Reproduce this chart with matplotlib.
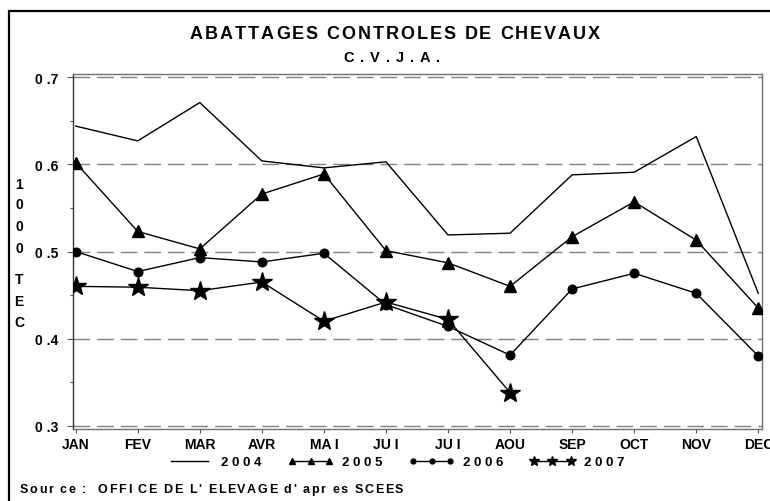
import matplotlib
matplotlib.use("Agg")
import matplotlib.pyplot as plt
from matplotlib.lines import Line2D
from matplotlib.font_manager import FontProperties, findfont
from matplotlib.ft2font import FT2Font
import matplotlib.transforms as mtrans

months = ["JAN", "FEV", "MAR", "AVR", "MA I", "JU I", "JU I", "AOU", "SEP", "OCT", "NOV", "DEC"]
y2004 = [0.644, 0.627, 0.671, 0.604, 0.596, 0.603, 0.519, 0.521, 0.588, 0.591, 0.632, 0.452]
y2005 = [0.602, 0.523, 0.503, 0.566, 0.589, 0.501, 0.487, 0.460, 0.517, 0.557, 0.513, 0.435]
y2006 = [0.500, 0.477, 0.493, 0.488, 0.498, 0.439, 0.414, 0.381, 0.457, 0.475, 0.452, 0.380]
y2007 = [0.460, 0.459, 0.455, 0.465, 0.420, 0.442, 0.422, 0.338]
yticks = [0.3, 0.4, 0.5, 0.6, 0.7]
ytick_labels = ["0 .3", "0 .4", "0 .5", "0 .6", "0 .7"]
series_labels = ["2 0 0 4", "2 0 0 5", "2 0 0 6", "2 0 0 7"]
title = "ABATTAGES CONTROLES DE CHEVAUX"
subtitle = "C.V.J.A."
ylabel_chars = ["1", "0", "0", "0", "T", "E", "C"]
source = "Sour ce :  OFFI CE DE L' ELEVAGE d' apr es SCEES"

FAM = "Liberation Sans"
fp_bold = FontProperties(family=FAM, weight="bold")

W, H = 770, 502
fig = plt.figure(figsize=(W / 100, H / 100), dpi=100)
ax = fig.add_axes([72.7 / W, 1 - 430 / H, (761.7 - 72.7) / W, (430 - 75) / H])

x = list(range(len(months)))
ax.plot(x, y2004, color="black", lw=1.0, zorder=3)
ax.plot(x, y2005, color="black", lw=1.0, marker="^", ms=8.5, zorder=3)
ax.plot(x, y2006, color="black", lw=1.0, marker="o", ms=6.2, zorder=3)
ax.plot(list(range(len(y2007))), y2007, color="black", lw=1.0, marker="*", ms=14.5, zorder=3)

ax.set_xlim(-0.048, 11.055)
ax.set_ylim(0.2962, 0.7038)
for v in yticks:
    ax.axhline(v, color="#808080", lw=1.0, ls=(0, (12, 5)), zorder=1)

ax.set_xticks(x)
ax.set_xticklabels(months, fontproperties=FontProperties(family=FAM, weight="bold", size=10))
ax.set_yticks(yticks)
ax.set_yticklabels(ytick_labels, fontproperties=FontProperties(family=FAM, weight="bold", size=10))
ax.set_yticks([0.35, 0.45, 0.55, 0.65], minor=True)
ax.tick_params(axis="x", direction="out", length=3, width=0.8, color="#555555", pad=2.5)
ax.tick_params(axis="y", which="major", direction="out", length=4, width=0.8, color="#555555", pad=6)
ax.tick_params(axis="y", which="minor", direction="out", length=2, width=0.8, color="#555555")
for s in ax.spines.values():
    s.set_color("#6e6e6e")
    s.set_linewidth(1.0)
ax.spines["left"].set_color("#333333")


def advances(s, fp, size):
    try:
        font = FT2Font(findfont(fp))
        font.set_size(size, 72)
        out = []
        for c in s:
            g = font.load_char(ord(c))
            out.append(g.linearHoriAdvance / 65536.0)
        return out
    except Exception:
        return [size * 0.6 for _ in s]


def tracked(xf, yf, s, size, target_px, ha="center", va="center"):
    adv = advances(s, fp_bold, size)
    nat = sum(adv)
    target_pt = target_px * 72.0 / fig.dpi
    track = (target_pt - nat) / max(len(s) - 1, 1)
    total = nat + track * (len(s) - 1)
    start = -total / 2 if ha == "center" else 0.0
    off = start
    for c, a in zip(s, adv):
        if c != " ":
            tr = fig.transFigure + mtrans.ScaledTranslation(off / 72.0, 0, fig.dpi_scale_trans)
            fig.text(xf, yf, c, transform=tr, ha="left", va=va,
                     fontproperties=FontProperties(family=FAM, weight="bold", size=size))
        off += a + track


tracked(395 / W, 1 - 35 / H, title, 13, 410)
tracked(392 / W, 1 - 58 / H, subtitle, 10.5, 97)
tracked(20 / W, 1 - 490 / H, source, 9, 383, ha="left")

ylab_y = [185, 205, 227, 249, 280, 302, 323]
for c, yy in zip(ylabel_chars, ylab_y):
    fig.text(19 / W, 1 - yy / H, c, ha="center", va="center",
             fontproperties=FontProperties(family=FAM, weight="bold", size=10))

handles = [
    Line2D([], [], color="black", lw=1.0),
    Line2D([], [], color="black", lw=1.0, marker="^", ms=4),
    Line2D([], [], color="black", lw=1.0, marker="o", ms=3.5),
    Line2D([], [], color="black", lw=1.0, marker="*", ms=7),
]
fig.legend(handles, series_labels, loc="center", bbox_to_anchor=(396 / W, 1 - 463 / H),
           ncol=4, frameon=False, numpoints=3, handlelength=3.4, handletextpad=0.7,
           columnspacing=2.0, prop=FontProperties(family=FAM, weight="bold", size=9.5))

border = plt.Rectangle((8.5 / W, -0.1), 1.5, (1 - 12.3 / H) + 0.1, transform=fig.transFigure,
                       fill=False, lw=1.6, ec="black", clip_on=False)
fig.patches.append(border)

fig.savefig("out.png", dpi=100)
